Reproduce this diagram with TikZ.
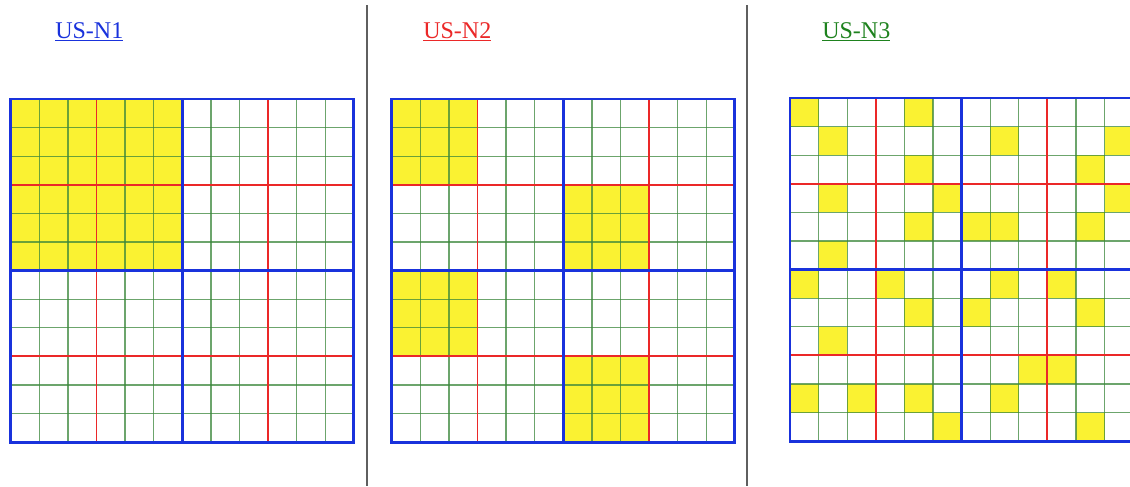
\documentclass[tikz,border=0pt]{standalone}
\usepackage{fontspec}
\setmainfont{Liberation Serif}
\definecolor{cellyellow}{RGB}{250,242,50}
\definecolor{thingreen}{RGB}{60,135,60}
\definecolor{boxred}{RGB}{235,40,40}
\definecolor{boxblue}{RGB}{25,50,220}
\definecolor{labelgreen}{RGB}{30,130,30}
\definecolor{sepgray}{RGB}{95,95,95}
\tikzset{
  cell/.style={fill=cellyellow},
  thinline/.style={draw=thingreen, line width=1pt, opacity=0.75},
  boxline/.style={draw=boxred, line width=1.4pt},
  blockline/.style={draw=boxblue, line width=2.2pt},
  separator/.style={draw=sepgray, line width=1.5pt},
  title/.style={anchor=base west, inner sep=0pt, font=\fontsize{18}{21}\selectfont}
}
% grid lines of one 12x12 board, in cell units
\newcommand{\boardlines}{%
  \foreach \i in {1,2,4,5,7,8,10,11} {
    \draw[thinline] (\i,0) -- (\i,12);
    \draw[thinline] (0,\i) -- (12,\i);
  }
  \foreach \i in {3,9} {
    \draw[boxline] (\i,0) -- (\i,12);
    \draw[boxline] (0,\i) -- (12,\i);
  }
  \draw[blockline] (6,0) -- (6,12);
  \draw[blockline] (0,6) -- (12,6);
  \draw[blockline] (0,0) rectangle (12,12);
}

\begin{document}
\begin{tikzpicture}[x=0.75pt, y=-0.75pt]
\clip (0,0) rectangle (1130,486);
\fill[white] (0,0) rectangle (1130,486);

% titles
\node[title, text=boxblue] (t1) at (55,38) {\underline{US-N1}};
\node[title, text=boxred] (t2) at (423,38) {\underline{US-N2}};
\node[title, text=labelgreen] (t3) at (822,38) {\underline{US-N3}};

% separators
\coordinate (s1top) at (367,5);
\coordinate (s1bot) at (367,486);
\coordinate (s2top) at (747,5);
\coordinate (s2bot) at (747,486);
\draw[separator] (s1top) -- (s1bot);
\draw[separator] (s2top) -- (s2bot);

% board 1
\begin{scope}[shift={(8.03pt,-74.25pt)}, x=21.45pt, y=-21.45pt]
  \fill[cell] (0,0) rectangle (6,6);
  \boardlines
\end{scope}

% board 2
\begin{scope}[shift={(293.8pt,-74.25pt)}, x=21.45pt, y=-21.45pt]
  \foreach \c/\r in {0/0, 6/3, 0/6, 6/9}
    \fill[cell] (\c,\r) rectangle +(3,3);
  \boardlines
\end{scope}

% board 3
\begin{scope}[shift={(592.5pt,-73.5pt)}, x=21.45pt, y=-21.45pt]
  \foreach \c/\r in {0/0, 4/0, 1/1, 7/1, 11/1, 4/2, 10/2, 1/3, 5/3, 11/3,
      4/4, 6/4, 7/4, 10/4, 1/5, 0/6, 3/6, 7/6, 9/6, 4/7, 6/7, 10/7, 1/8,
      8/9, 9/9, 0/10, 2/10, 4/10, 7/10, 5/11, 10/11}
    \fill[cell] (\c,\r) rectangle +(1,1);
  \boardlines
\end{scope}
\end{tikzpicture}
\end{document}
